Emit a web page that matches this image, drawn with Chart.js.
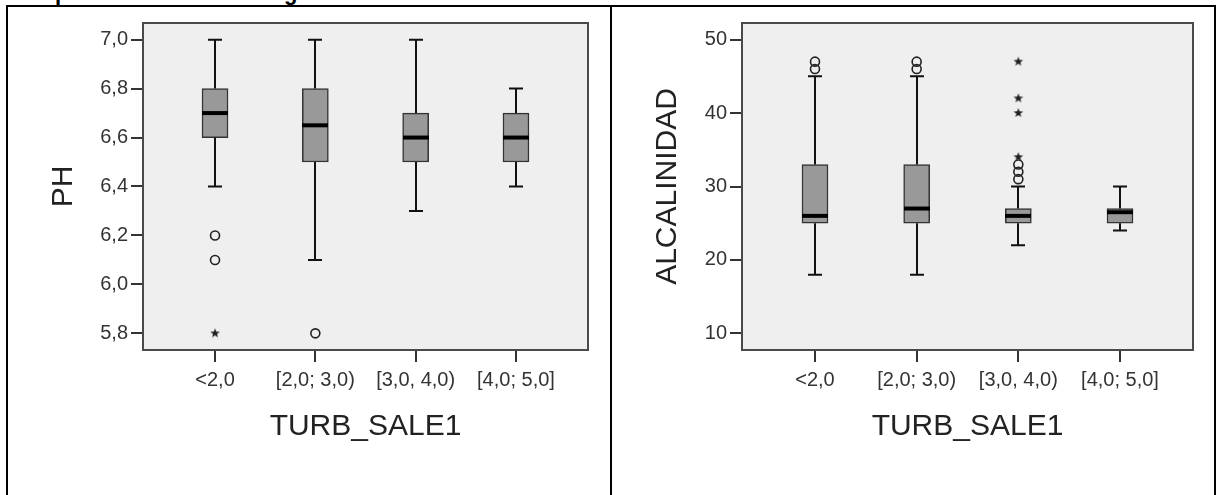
<!DOCTYPE html>
<html><head><meta charset="utf-8">
<script src="https://cdn.jsdelivr.net/npm/chart.js@4/dist/chart.umd.min.js"></script>
<style>
html,body{margin:0;padding:0;background:#fff;width:1216px;height:495px;overflow:hidden;position:relative;font-family:"Liberation Sans",Arial,sans-serif;}
.ln{position:absolute;background:#000;}
.hd{position:absolute;top:-17px;font:bold 22px "Liberation Sans",Arial,sans-serif;line-height:20px;color:#000;}
.wrap{position:absolute;top:8px;height:487px;}
</style></head><body>
<span class="hd" style="left:55px">p</span>
<span class="hd" style="left:284px">g</span>
<div class="ln" style="left:6px;top:5px;width:1210px;height:2px"></div>
<div class="ln" style="left:6px;top:5px;width:2px;height:490px"></div>
<div class="ln" style="left:610px;top:5px;width:2px;height:490px"></div>
<div class="ln" style="left:1214px;top:5px;width:2px;height:490px"></div>
<div class="wrap" style="left:8px;width:602px"><canvas id="c1" width="602" height="487"></canvas></div>
<div class="wrap" style="left:613px;width:601px"><canvas id="c2" width="601" height="487"></canvas></div>
<script>
// ---- data ----
const categories = ['<2,0', '[2,0; 3,0)', '[3,0, 4,0)', '[4,0; 5,0]'];
const xTitle = 'TURB_SALE1';

const phTitle = 'PH';
const phMin = [6.4, 6.1, 6.3, 6.4];
const phQ1  = [6.6, 6.5, 6.5, 6.5];
const phMed = [6.7, 6.65, 6.6, 6.6];
const phQ3  = [6.8, 6.8, 6.7, 6.7];
const phMax = [7.0, 7.0, 7.0, 6.8];
const phOutliers = [[6.2, 6.1], [5.8], [], []];
const phExtremes = [[5.8], [], [], []];
const phTicks = [5.8, 6.0, 6.2, 6.4, 6.6, 6.8, 7.0];
const phTickLabels = ['5,8', '6,0', '6,2', '6,4', '6,6', '6,8', '7,0'];

const alkTitle = 'ALCALINIDAD';
const alkMin = [18, 18, 22, 24];
const alkQ1  = [25, 25, 25, 25];
const alkMed = [26, 27, 26, 26.5];
const alkQ3  = [33, 33, 27, 27];
const alkMax = [45, 45, 30, 30];
const alkOutliers = [[47, 46], [47, 46], [33, 32, 31], []];
const alkExtremes = [[], [], [47, 42, 40, 34], []];
const alkTicks = [10, 20, 30, 40, 50];
const alkTickLabels = ['10', '20', '30', '40', '50'];

// ---- rendering ----
Chart.defaults.font.family = '"Liberation Sans", Arial, sans-serif';

const starImg = document.createElement('canvas');
starImg.width = 12; starImg.height = 12;
(function(){
  const c = starImg.getContext('2d');
  c.fillStyle = '#222';
  c.beginPath();
  for (let k = 0; k < 10; k++) {
    const r = k % 2 === 0 ? 5 : 2.1;
    const a = -Math.PI / 2 + k * Math.PI / 5;
    const px = 6 + r * Math.cos(a), py = 6 + r * Math.sin(a);
    if (k === 0) c.moveTo(px, py); else c.lineTo(px, py);
  }
  c.closePath(); c.fill();
})();

function flatPts(groups) {
  return groups.flatMap((arr, i) => arr.map(v => ({x: i, y: v})));
}

function boxPlugin(st) {
  return {
    id: 'boxextras',
    beforeDraw(chart) {
      const {ctx, chartArea: a} = chart;
      ctx.save();
      ctx.fillStyle = '#efefef';
      ctx.fillRect(a.left, a.top, a.right - a.left, a.bottom - a.top);
      ctx.restore();
    },
    afterDatasetsDraw(chart) {
      const {ctx, scales: {x, y}} = chart;
      ctx.save();
      st.min.forEach((_, i) => {
        const cx = Math.round(x.getPixelForValue(i));
        const pMin = y.getPixelForValue(st.min[i]);
        const pQ1 = y.getPixelForValue(st.q1[i]);
        const pQ3 = y.getPixelForValue(st.q3[i]);
        const pMax = y.getPixelForValue(st.max[i]);
        const pMed = y.getPixelForValue(st.med[i]);
        ctx.strokeStyle = '#111';
        ctx.lineWidth = 2;
        ctx.beginPath();
        ctx.moveTo(cx, pQ3); ctx.lineTo(cx, pMax);
        ctx.moveTo(cx, pQ1); ctx.lineTo(cx, pMin);
        ctx.moveTo(cx - 7, pMax); ctx.lineTo(cx + 7, pMax);
        ctx.moveTo(cx - 7, pMin); ctx.lineTo(cx + 7, pMin);
        ctx.stroke();
        ctx.strokeStyle = '#000';
        ctx.lineWidth = 4;
        ctx.beginPath();
        ctx.moveTo(cx - 13, pMed); ctx.lineTo(cx + 13, pMed);
        ctx.stroke();
      });
      ctx.restore();
    },
    afterDraw(chart) {
      const {ctx, chartArea: a} = chart;
      ctx.save();
      ctx.strokeStyle = '#4a4a4a';
      ctx.lineWidth = 2;
      ctx.strokeRect(a.left, a.top, a.right - a.left, a.bottom - a.top);
      ctx.restore();
    }
  };
}

function makeChart(id, o) {
  const st = {min: o.min, q1: o.q1, med: o.med, q3: o.q3, max: o.max};
  return new Chart(document.getElementById(id), {
    type: 'bar',
    data: {
      datasets: [
        {
          type: 'bar',
          data: categories.map((c, i) => ({x: i, y: [o.q1[i], o.q3[i]]})),
          backgroundColor: '#999999',
          borderColor: '#333333',
          borderWidth: 1.5,
          borderSkipped: false,
          barThickness: 26
        },
        {
          type: 'scatter',
          data: flatPts(o.outliers),
          pointStyle: 'circle',
          radius: 4.5,
          borderWidth: 1.6,
          borderColor: '#222',
          backgroundColor: 'rgba(0,0,0,0)'
        },
        {
          type: 'scatter',
          data: flatPts(o.extremes),
          pointStyle: starImg,
          radius: 6
        }
      ]
    },
    options: {
      responsive: false,
      animation: false,
      events: [],
      layout: {padding: {top: 7, right: o.padRight, left: 0, bottom: 0}},
      plugins: {legend: {display: false}, tooltip: {enabled: false}},
      scales: {
        x: {
          type: 'linear',
          offset: false,
          min: -0.718, max: 3.718,
          afterBuildTicks: s => { s.ticks = categories.map((c, i) => ({value: i})); },
          afterFit: s => { s.height = 145; },
          ticks: {
            callback: (v) => categories[Math.round(v)],
            font: {size: 20}, color: '#333', padding: 6, maxRotation: 0, autoSkip: false
          },
          grid: {offset: false, drawOnChartArea: false, drawTicks: true, tickLength: 12, color: '#333', lineWidth: 2},
          border: {display: false},
          title: {display: true, text: xTitle, font: {size: 30}, color: '#222', padding: {top: 0, bottom: 50}}
        },
        y: {
          type: 'linear',
          min: o.yMin, max: o.yMax,
          afterBuildTicks: s => { s.ticks = o.ticks.map(v => ({value: v})); },
          afterFit: s => { s.width = o.yWidth; },
          ticks: {
            callback: (v, i) => o.tickLabels[i],
            font: {size: 20}, color: '#333', padding: 3
          },
          grid: {drawOnChartArea: false, drawTicks: true, tickLength: 12, color: '#333', lineWidth: 2},
          border: {display: false},
          title: {display: true, text: o.title, font: {size: 30}, color: '#222', padding: {top: o.titlePad, bottom: 0}}
        }
      }
    },
    plugins: [boxPlugin(st)]
  });
}

makeChart('c1', {
  min: phMin, q1: phQ1, med: phMed, q3: phQ3, max: phMax,
  outliers: phOutliers, extremes: phExtremes,
  ticks: phTicks, tickLabels: phTickLabels, title: phTitle,
  yMin: 5.732, yMax: 7.068, yWidth: 135, padRight: 22, titlePad: 38
});
makeChart('c2', {
  min: alkMin, q1: alkQ1, med: alkMed, q3: alkQ3, max: alkMax,
  outliers: alkOutliers, extremes: alkExtremes,
  ticks: alkTicks, tickLabels: alkTickLabels, title: alkTitle,
  yMin: 7.74, yMax: 52.26, yWidth: 129, padRight: 21, titlePad: 37
});
</script>
</body></html>
